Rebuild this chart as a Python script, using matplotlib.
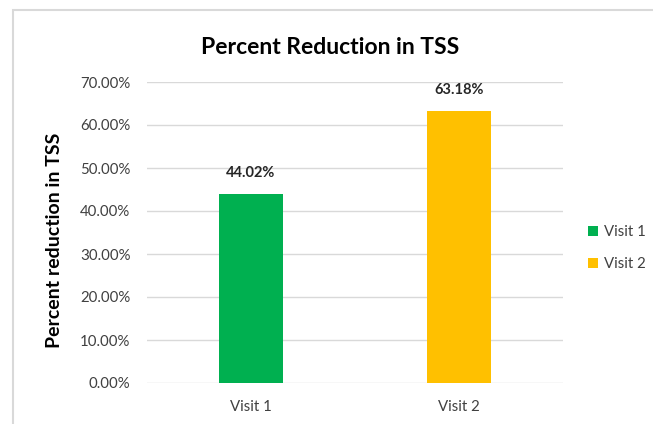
import matplotlib
matplotlib.use("Agg")
import matplotlib.pyplot as plt
from matplotlib.patches import Rectangle
from matplotlib.ticker import FuncFormatter

# data
visits = ["Visit 1", "Visit 2"]
reduction = [44.02, 63.18]
bar_colors = ["#00B050", "#FFC000"]
y_ticks = [0, 10, 20, 30, 40, 50, 60, 70]

plt.rcParams["font.family"] = ["Lato", "DejaVu Sans"]

fig = plt.figure(figsize=(6.53, 4.24), dpi=100)
ax = fig.add_axes([147 / 653, 41 / 424, 416 / 653, 301 / 424])

# chart border (light gray, cut off at the right/bottom)
fig.patches.append(Rectangle((13 / 653, -0.1), 1.1, (414 / 424) + 0.1,
                             transform=fig.transFigure, fill=False,
                             edgecolor="#D9D9D9", linewidth=1.5))

x = range(len(visits))
bars = ax.bar(x, reduction, width=0.31, color=bar_colors, label=visits, zorder=3)

for xi, v in zip(x, reduction):
    ax.text(xi, v + 3.3, "%.2f%%" % v, ha="center", va="bottom",
            fontsize=10.5, fontweight="bold", color="#262626")

ax.set_xlim(-0.5, 1.5)
ax.set_ylim(0, 70)
ax.set_yticks(y_ticks)
ax.yaxis.set_major_formatter(FuncFormatter(lambda v, p: "%.2f%%" % v))
ax.set_xticks(list(x))
ax.set_xticklabels(visits)
ax.tick_params(axis="both", length=0, labelsize=10.8, colors="#404040")
ax.tick_params(axis="y", pad=12)
ax.tick_params(axis="x", pad=12)
ax.grid(axis="y", color="#D9D9D9", linewidth=1, zorder=0)
for s in ax.spines.values():
    s.set_visible(False)

fig.text(55 / 653, 1 - 240 / 424, "Percent reduction in TSS", rotation=90,
         ha="center", va="center", fontsize=14, fontweight="bold", color="black")
fig.text(330 / 653, 1 - 47 / 424, "Percent Reduction in TSS",
         ha="center", va="center", fontsize=16.5, fontweight="bold", color="black")

fig.legend(bars, visits, loc="center left", bbox_to_anchor=(574 / 653, 1 - 248 / 424),
           frameon=False, fontsize=10.8, handlelength=0.7, handleheight=0.7,
           handletextpad=0.4, labelspacing=1.2, labelcolor="#404040")

fig.savefig("out.png", dpi=100)
